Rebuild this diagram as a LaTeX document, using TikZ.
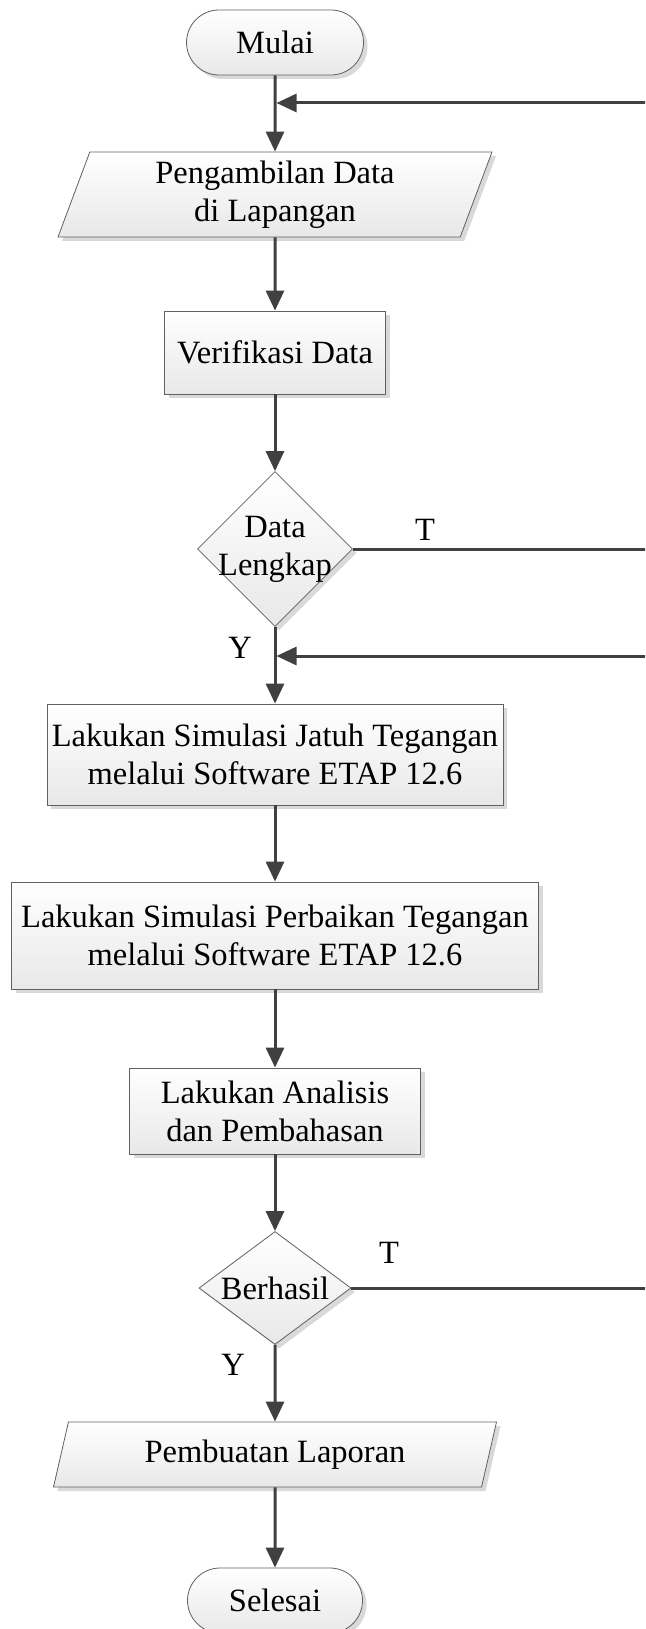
\documentclass[tikz,border=0pt]{standalone}
\usepackage{fontspec}
\setmainfont{Liberation Serif}
\usetikzlibrary{shapes.geometric,shapes.misc,arrows.meta,shadows}

\begin{document}
\begin{tikzpicture}[x=1pt,y=-1pt,
  every node/.style={font=\fontsize{32.5}{38}\selectfont, text=black},
  shapebase/.style={draw=black!62, line width=0.8pt, top color=white, bottom color=black!9,
    drop shadow={shadow xshift=4pt, shadow yshift=-4pt, fill=black!15, opacity=1},
    inner sep=0pt, align=center},
  terminal/.style={shapebase, rounded rectangle, minimum width=177pt, minimum height=65pt},
  process/.style={shapebase, rectangle},
  iobox/.style={shapebase, trapezium, trapezium stretches body},
  decision/.style={shapebase, diamond},
  flow/.style={draw=black!75, line width=3pt, -{Triangle[length=20pt,width=18pt]}},
  plain/.style={draw=black!75, line width=3pt},
  ]
\clip (0,0) rectangle (645,1629);

% process blocks
\node[terminal] (mulai) at (275,42.5) {Mulai};
\node[iobox, trapezium left angle=64.8, trapezium right angle=115.2,
      minimum width=434pt, minimum height=85pt] (ambil) at (275,194.5)
      {Pengambilan Data\\di Lapangan};
\node[process, minimum width=221pt, minimum height=83pt] (verif) at (275,352.5) {Verifikasi Data};
\node[decision, minimum width=155pt, minimum height=155pt,
      label={[align=center]center:Data\\Lengkap}] (cek1) at (275,549) {};
\node[process, minimum width=456pt, minimum height=101pt] (sim1) at (275,754.5)
      {Lakukan Simulasi Jatuh Tegangan\\melalui Software ETAP 12.6};
\node[process, minimum width=527pt, minimum height=107pt] (sim2) at (275,935.5)
      {Lakukan Simulasi Perbaikan Tegangan\\melalui Software ETAP 12.6};
\node[process, minimum width=291pt, minimum height=86pt] (anal) at (275,1111)
      {Lakukan Analisis\\dan Pembahasan};
\node[decision, aspect=1.345, minimum width=152pt, minimum height=113pt] (cek2) at (275,1288) {Berhasil};
\node[iobox, trapezium left angle=63.1, trapezium right angle=116.9,
      minimum width=443pt, minimum height=65pt] (lapor) at (275,1454.5) {Pembuatan Laporan};
\node[terminal, minimum width=175pt] (selesai) at (275,1600.5) {Selesai};

% branch labels
\node (t1) at (425,530) {T};
\node (y1) at (240,648) {Y};
\node (t2) at (389,1253) {T};
\node (y2) at (233,1365) {Y};

% return points at the right edge
\coordinate (back1) at (650,103);
\coordinate (out1) at (650,549);
\coordinate (back2) at (650,656);
\coordinate (out2) at (650,1288);

% main flow
\draw[flow] (mulai.south) -- (ambil.north);
\draw[flow] (ambil.south) -- (verif.north);
\draw[flow] (verif.south) -- (cek1.north);
\draw[flow] (cek1.south) -- (sim1.north);
\draw[flow] (sim1.south) -- (sim2.north);
\draw[flow] (sim2.south) -- (anal.north);
\draw[flow] (anal.south) -- (cek2.north);
\draw[flow] (cek2.south) -- (lapor.north);
\draw[flow] (lapor.south) -- (selesai.north);

% loops
\draw[flow, shorten >=1.5pt] (back1) -- (back1 -| mulai);
\draw[plain] (cek1.east) -- (out1);
\draw[flow, shorten >=1.5pt] (back2) -- (back2 -| cek1);
\draw[plain] (cek2.east) -- (out2);
\end{tikzpicture}
\end{document}
